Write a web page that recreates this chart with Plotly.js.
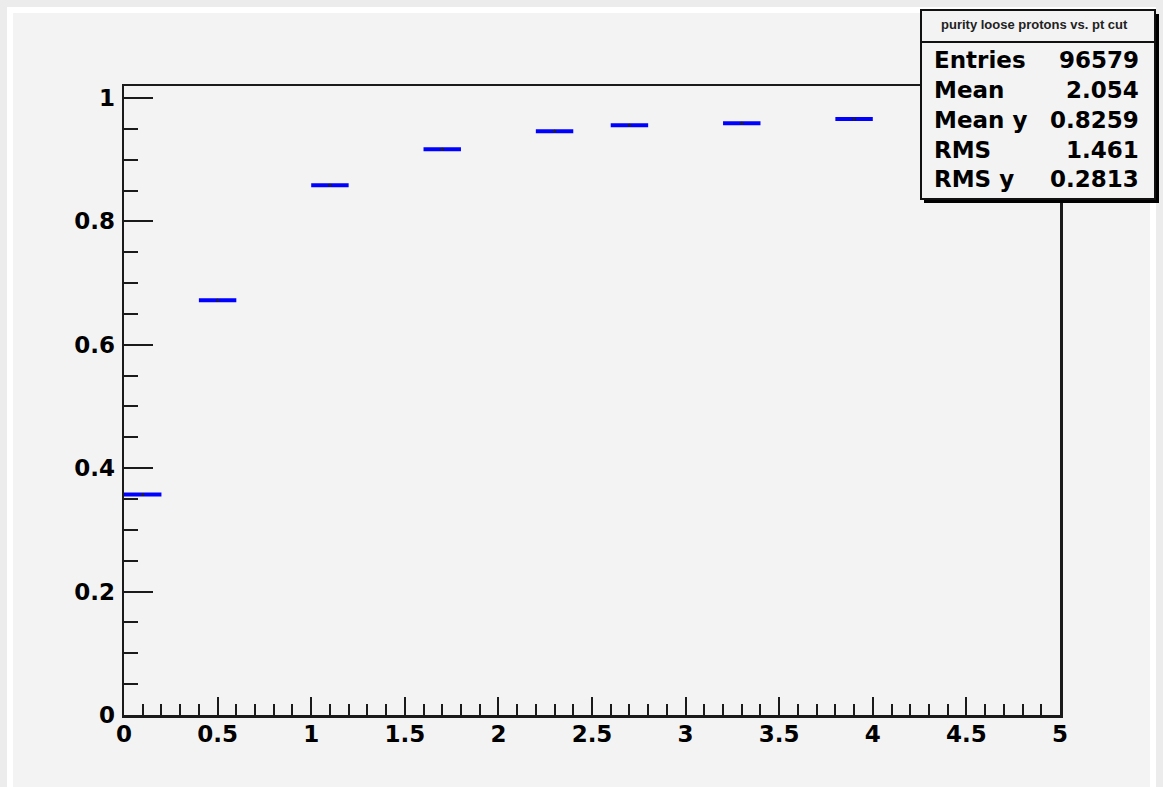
<!DOCTYPE html>
<html>
<head>
<meta charset="utf-8">
<script src="https://cdn.plot.ly/plotly-3.0.1.min.js"></script>
<style>
  html, body { margin: 0; padding: 0; background: #ececec; }
  #frame { position: absolute; left: 7px; top: 7px; width: 1137px; height: 800px;
           background: #f3f3f3; border: 6px solid #ffffff; }
  #plot { position: absolute; left: 0; top: 0; width: 1163px; height: 787px; }
</style>
</head>
<body>
<div id="frame"></div>
<div id="plot"></div>
<script>
// ---- data ----
const binCenters   = [0.1, 0.5, 1.1, 1.7, 2.3, 2.7, 3.3, 3.9];
const purity       = [0.3575, 0.6723, 0.8586, 0.9169, 0.9461, 0.9558, 0.959, 0.966];
const binHalfWidth = [0.1, 0.1, 0.1, 0.1, 0.1, 0.1, 0.1, 0.1];

const statsTitle  = "purity loose protons vs. pt cut";
const statLabels  = ["Entries", "Mean", "Mean y", "RMS", "RMS y"];
const statValues  = ["96579", "2.054", "0.8259", "1.461", "0.2813"];

// ---- layout helpers (pixel -> paper) ----
const W = 1163, H = 787;
const L = 124, R = 1060, T = 86, B = 715;
const px = p => (p - L) / (R - L);
const py = p => (B - p) / (B - T);

const font = "DejaVu Sans, sans-serif";
const axisCol = "#1a1a1a";

const trace = {
  type: "scatter",
  mode: "markers",
  x: binCenters,
  y: purity,
  marker: { size: 3, color: "#222222" },
  error_x: { type: "data", array: binHalfWidth, symmetric: true,
             color: "#0000ff", thickness: 4, width: 0 },
  hoverinfo: "x+y",
  showlegend: false
};

const rowY = [60, 90, 120, 150, 179];
const annotations = [
  { xref: "paper", yref: "paper", x: px(1034), y: py(25), text: "<b>" + statsTitle + "</b>",
    showarrow: false, xanchor: "center", yanchor: "middle",
    font: { family: "Liberation Sans, Arial, sans-serif", size: 13, color: "#222" } }
];
statLabels.forEach((s, i) => {
  annotations.push({ xref: "paper", yref: "paper", x: px(932), y: py(rowY[i]), text: "<b>" + s + "</b>",
    showarrow: false, xanchor: "left", yanchor: "middle",
    font: { family: font, size: 23, color: "#000" } });
  annotations.push({ xref: "paper", yref: "paper", x: px(1141), y: py(rowY[i]), text: "<b>" + statValues[i] + "</b>",
    showarrow: false, xanchor: "right", yanchor: "middle",
    font: { family: font, size: 23, color: "#000" } });
});

const shapes = [
  { type: "rect", xref: "paper", yref: "paper", layer: "above",
    x0: px(924), x1: px(1159), y0: py(14), y1: py(203),
    fillcolor: "#000000", line: { width: 0 } },
  { type: "rect", xref: "paper", yref: "paper", layer: "above",
    x0: px(921), x1: px(1155), y0: py(10), y1: py(199),
    fillcolor: "#f3f3f3", line: { color: "#111111", width: 2 } },
  { type: "line", xref: "paper", yref: "paper", layer: "above",
    x0: px(921), x1: px(1155), y0: py(42), y1: py(42),
    line: { color: "#111111", width: 2 } }
];

const layout = {
  width: W, height: H,
  margin: { l: L, r: W - R, t: T, b: H - B, pad: 0 },
  paper_bgcolor: "rgba(0,0,0,0)",
  plot_bgcolor: "#f3f3f3",
  font: { family: font, color: "#000" },
  xaxis: {
    range: [0, 5], dtick: 0.5, tick0: 0,
    ticks: "inside", ticklen: 18, tickwidth: 2, tickcolor: axisCol,
    minor: { dtick: 0.1, ticks: "inside", ticklen: 11, tickwidth: 2, tickcolor: axisCol },
    showline: true, linecolor: axisCol, linewidth: 2.5, mirror: true,
    showgrid: false, zeroline: false,
    tickfont: { family: font, size: 23, color: "#000", weight: "bold" },
    ticklabelstandoff: -3
  },
  yaxis: {
    range: [0, 1.0194], dtick: 0.2, tick0: 0,
    ticks: "inside", ticklen: 29, tickwidth: 2, tickcolor: axisCol,
    minor: { dtick: 0.05, ticks: "inside", ticklen: 14, tickwidth: 2, tickcolor: axisCol },
    showline: true, linecolor: axisCol, linewidth: 2.5, mirror: true,
    showgrid: false, zeroline: false,
    tickfont: { family: font, size: 23, color: "#000", weight: "bold" },
    ticklabelstandoff: 2
  },
  shapes: shapes,
  annotations: annotations
};

Plotly.newPlot("plot", [trace], layout, { displayModeBar: false, staticPlot: true });
</script>
</body>
</html>
